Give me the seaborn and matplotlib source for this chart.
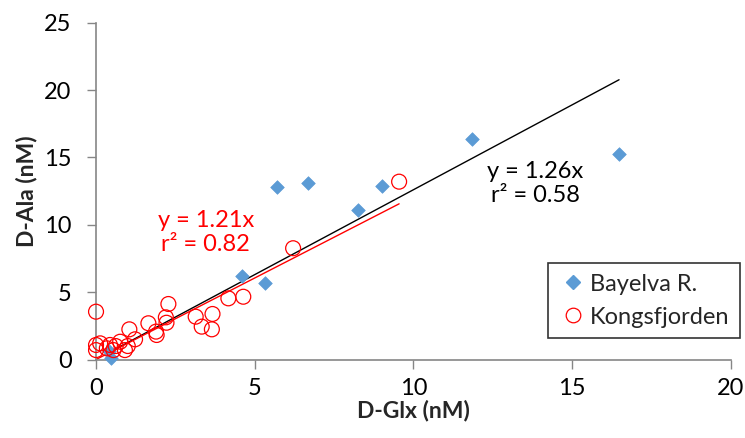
import numpy as np
import pandas as pd
import matplotlib
matplotlib.use("Agg")
import matplotlib.pyplot as plt
import seaborn as sns
from matplotlib.lines import Line2D

sns.set_theme(style="ticks")
plt.rcParams["font.family"] = ["Lato", "DejaVu Sans"]

# -----------------------------
# Data
# -----------------------------
bayelva_x = [0.40, 0.47, 4.61, 5.32, 5.69, 6.69, 8.24, 9.00, 11.85, 16.48]
bayelva_y = [0.65, 0.10, 6.20, 5.66, 12.83, 13.08, 11.10, 12.90, 16.35, 15.23]

kongs_x = [0.00, 2.28, 2.20, 2.22, 4.17, 4.64, 3.14, 3.67, 3.33, 3.65,
           1.65, 1.89, 1.91, 1.05, 1.23, 0.76, 0.44, 0.13, 0.00, 0.00,
           0.55, 0.91, 0.34, 0.62, 1.00, 6.21, 9.55]
kongs_y = [3.55, 4.12, 3.13, 2.73, 4.54, 4.66, 3.18, 3.38, 2.44, 2.24,
           2.69, 2.07, 1.82, 2.24, 1.50, 1.32, 1.08, 1.20, 1.08, 0.70,
           0.70, 0.70, 0.83, 1.00, 1.00, 8.26, 13.20]

slope_bayelva = 1.26
r2_bayelva = 0.58
slope_kongs = 1.21
r2_kongs = 0.82

x_ticks = [0, 5, 10, 15, 20]
y_ticks = [0, 5, 10, 15, 20, 25]

df_b = pd.DataFrame({"x": bayelva_x, "y": bayelva_y})
df_k = pd.DataFrame({"x": kongs_x, "y": kongs_y})

# trendlines through origin over each series' x range
line_b = pd.DataFrame({"x": [min(bayelva_x), max(bayelva_x)]})
line_b["y"] = slope_bayelva * line_b["x"]
line_k = pd.DataFrame({"x": [min(kongs_x), max(kongs_x)]})
line_k["y"] = slope_kongs * line_k["x"]

blue = "#5B9BD5"
red = "#FF0000"
axis_gray = "#868686"

# -----------------------------
# Plot
# -----------------------------
fig = plt.figure(figsize=(7.45, 4.38), dpi=100)
ax = fig.add_axes([0.1289, 0.1792, 0.852, 0.7690])

sns.lineplot(data=line_b, x="x", y="y", color="black", linewidth=1.0, ax=ax)
sns.lineplot(data=line_k, x="x", y="y", color=red, linewidth=1.0, ax=ax)

sns.scatterplot(data=df_b, x="x", y="y", marker="D", s=48, color=blue,
                edgecolor=blue, linewidth=0.5, ax=ax, zorder=3, clip_on=False)
sns.scatterplot(data=df_k, x="x", y="y", marker="o", s=115, facecolor="none",
                edgecolor=red, linewidth=0.9, ax=ax, zorder=4, clip_on=False)

ax.set_xlim(0, 20)
ax.set_ylim(0, 25)
ax.set_xticks(x_ticks)
ax.set_yticks(y_ticks)

for side in ["top", "right"]:
    ax.spines[side].set_visible(False)
for side in ["left", "bottom"]:
    ax.spines[side].set_color(axis_gray)
    ax.spines[side].set_linewidth(1.2)

ax.tick_params(axis="both", direction="out", length=6.5, width=1.0,
               color=axis_gray, labelsize=17, labelcolor="black")
ax.tick_params(axis="y", pad=11)
ax.tick_params(axis="x", pad=7)

ax.set_xlabel("D-Glx (nM)", fontsize=16.5, fontweight="bold", labelpad=0)
ax.set_ylabel("D-Ala (nM)", fontsize=16.5, fontweight="bold", labelpad=5)

ax.text(13.83, 13.05, f"y = {slope_bayelva}x\nr² = {r2_bayelva}",
        ha="center", va="center", fontsize=17, color="black", linespacing=1.2)
ax.text(3.46, 9.43, f"y = {slope_kongs}x\nr² = {r2_kongs}",
        ha="center", va="center", fontsize=17, color=red, linespacing=1.2)

handles = [
    Line2D([], [], marker="D", linestyle="none", markersize=7,
           markerfacecolor=blue, markeredgecolor=blue, label="Bayelva R."),
    Line2D([], [], marker="o", linestyle="none", markersize=10.5,
           markerfacecolor="none", markeredgecolor=red, markeredgewidth=0.9,
           label="Kongsfjorden"),
]
leg = ax.legend(handles=handles, loc="lower right",
                bbox_to_anchor=(0.993, 0.228), bbox_transform=fig.transFigure,
                fontsize=17, frameon=True, fancybox=False, handletextpad=0.1,
                handlelength=1.2, borderpad=0.45, labelspacing=0.5,
                borderaxespad=0)
leg.get_frame().set_edgecolor("black")
leg.get_frame().set_linewidth(1.2)

fig.savefig("out.png", dpi=100)
